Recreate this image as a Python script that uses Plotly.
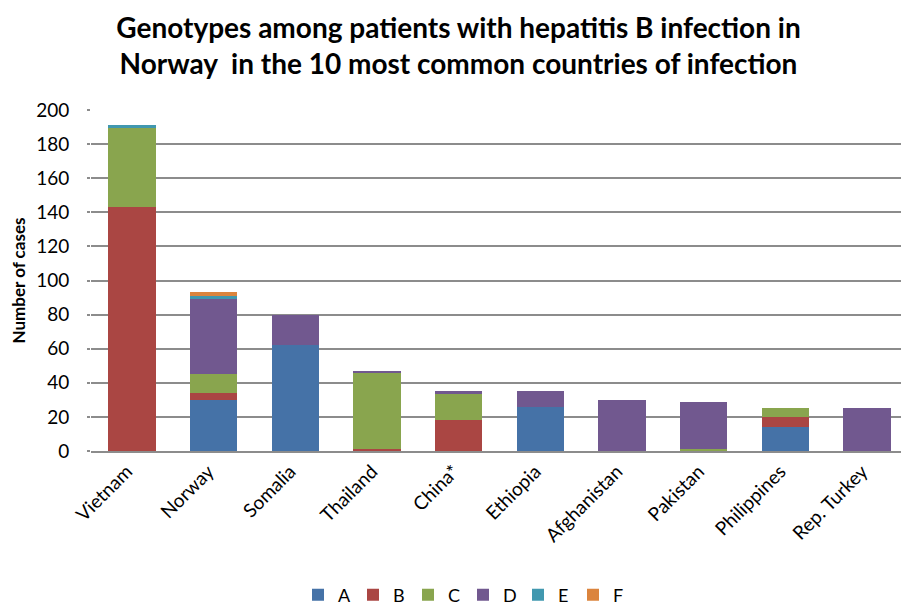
import plotly.graph_objects as go

countries = ["Vietnam", "Norway", "Somalia", "Thailand", "China*", "Ethiopia",
             "Afghanistan", "Pakistan", "Philippines", "Rep. Turkey"]
genotype_A = [0, 30, 62, 0, 0, 26, 0, 0, 14, 0]
genotype_B = [143, 4, 0, 1, 18, 0, 0, 0, 6, 0]
genotype_C = [47, 11, 0, 45, 16, 0, 0, 1, 5, 0]
genotype_D = [0, 44, 18, 1, 1, 9, 30, 28, 0, 25]
genotype_E = [1, 2, 0, 0, 0, 0, 0, 0, 0, 0]
genotype_F = [0, 2, 0, 0, 0, 0, 0, 0, 0, 0]

series = [
    ("A", genotype_A, "#4572A7"),
    ("B", genotype_B, "#AA4643"),
    ("C", genotype_C, "#89A54E"),
    ("D", genotype_D, "#71588F"),
    ("E", genotype_E, "#4198AF"),
    ("F", genotype_F, "#DB843D"),
]

FONT = "Lato, 'Open Sans', sans-serif"

# the page body adds an 8px margin, so the figure is sized to fit the window
W, H = 901, 597
plot_top, plot_bottom = 102, 443

fig = go.Figure()
for name, vals, col in series:
    fig.add_trace(go.Bar(
        name=name, x=countries, y=vals,
        marker=dict(color=col, line=dict(width=0)),
    ))

fig.update_layout(
    barmode="stack",
    bargap=0.42,
    width=W, height=H,
    paper_bgcolor="white", plot_bgcolor="white",
    margin=dict(l=83, r=1, t=plot_top, b=H - plot_bottom, autoexpand=False),
    font=dict(family=FONT, size=18, color="#000000"),
    title=dict(
        text="<b>Genotypes among patients with hepatitis B infection in<br>Norway  in the 10 most common countries of infection</b>",
        x=0.5, xanchor="center", xref="container",
        y=1 - 30 / H, yanchor="middle", yref="container",
        font=dict(family=FONT, size=28, color="#000000"),
    ),
    legend=dict(
        orientation="h", x=0.505, xanchor="center", xref="container",
        y=1 - 587 / H, yanchor="middle", yref="container",
        font=dict(family=FONT, size=18), traceorder="normal",
        itemwidth=30, entrywidth=10,
    ),
    xaxis=dict(
        tickangle=-45, showgrid=False, showline=True, automargin=False,
        linecolor="#8c8c8c", linewidth=2, ticks="",
        ticklabelshift=-5,
        tickfont=dict(family=FONT, size=19),
    ),
    yaxis=dict(
        range=[0, 200], dtick=20, showgrid=True, gridcolor="#8c8c8c",
        gridwidth=2, zeroline=False, automargin=False,
        ticks="outside", ticklen=3, tickcolor="#8c8c8c", tickwidth=2,
        ticklabelstandoff=14,
        tickfont=dict(family=FONT, size=19),
        title=dict(text="<b>Number of cases</b>", font=dict(family=FONT, size=17), standoff=10),
    ),
)

fig.write_html("out.html")
